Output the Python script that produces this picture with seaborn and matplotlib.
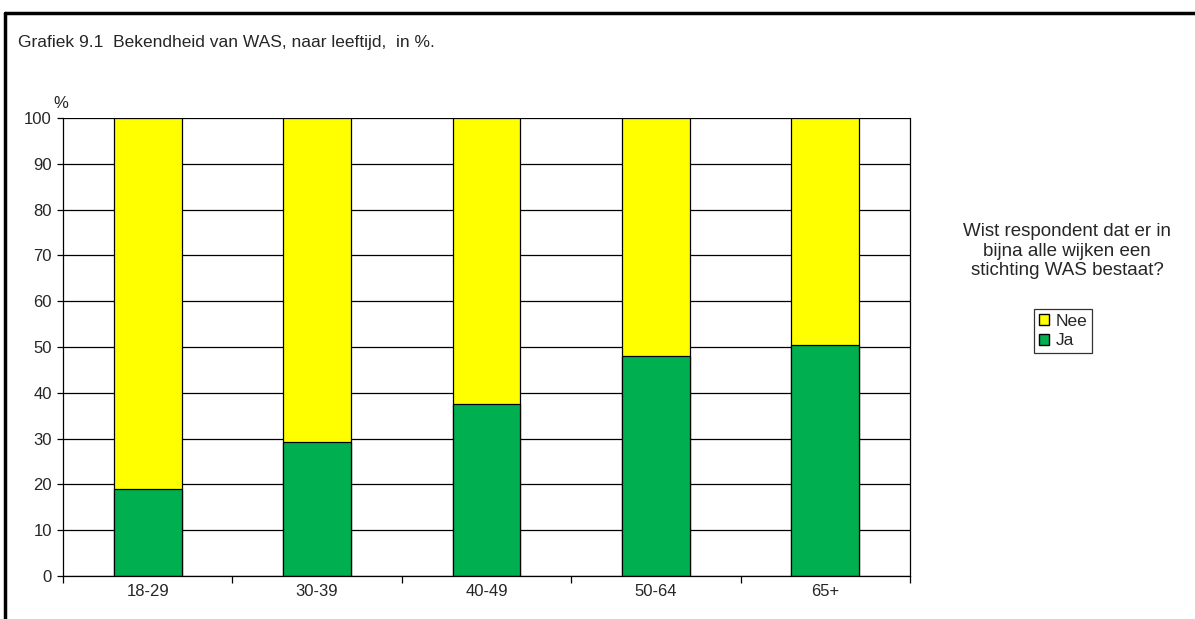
import matplotlib.pyplot as plt
import matplotlib.lines as mlines
import matplotlib.patches as mpatches
import seaborn as sns
import pandas as pd

# Data
leeftijd = ["18-29", "30-39", "40-49", "50-64", "65+"]
ja = [19.1, 29.2, 37.5, 48.1, 50.4]
nee = [80.9, 70.8, 62.5, 51.9, 49.6]

df = pd.DataFrame({"leeftijd": leeftijd, "Ja": ja, "Nee": nee})
df["totaal"] = df["Ja"] + df["Nee"]

sns.set_style("white")
plt.rcParams["font.family"] = ["Liberation Sans", "DejaVu Sans"]

fig = plt.figure(figsize=(11.95, 6.19), dpi=100)
ax = fig.add_axes([63 / 1195, 43 / 619, 847 / 1195, 458 / 619])

# stacked bars: total (Nee on top) first, then Ja
sns.barplot(data=df, x="leeftijd", y="totaal", color="#FFFF00",
            edgecolor="black", linewidth=0.9, width=0.4, ax=ax, saturation=1)
sns.barplot(data=df, x="leeftijd", y="Ja", color="#00B050",
            edgecolor="black", linewidth=0.9, width=0.4, ax=ax, saturation=1)

ax.set_xlim(-0.5, 4.5)
ax.set_ylim(0, 100)
ax.set_yticks(range(0, 101, 10))
ax.yaxis.grid(True, color="black", linewidth=0.9)
ax.set_axisbelow(True)
ax.set_xlabel("")
ax.set_ylabel("")

for side in ["left", "bottom", "right"]:
    ax.spines[side].set_color("black")
    ax.spines[side].set_linewidth(0.9)
ax.spines["top"].set_visible(False)

ax.tick_params(axis="y", which="major", length=4, width=0.9, color="black",
               direction="out", left=True, labelsize=12, pad=4)
ax.tick_params(axis="x", which="major", length=0, labelsize=12, pad=6)
ax.set_xticks([i + 0.5 for i in range(-1, 5)], minor=True)
ax.tick_params(axis="x", which="minor", length=5, width=0.9, color="black",
               direction="out", bottom=True)

ax.text(-0.011, 1.015, "%", transform=ax.transAxes, fontsize=12,
        ha="left", va="bottom")

fig.text(18 / 1195, 1 - 42 / 619,
         "Grafiek 9.1  Bekendheid van WAS, naar leeftijd,  in %.",
         fontsize=12.5, ha="left", va="center")

fig.text(1067 / 1195, 1 - 251 / 619,
         "Wist respondent dat er in\nbijna alle wijken een\nstichting WAS bestaat?",
         fontsize=13.5, ha="center", va="center", linespacing=1.2)

handles = [mpatches.Patch(facecolor="#FFFF00", edgecolor="black", label="Nee"),
           mpatches.Patch(facecolor="#00B050", edgecolor="black", label="Ja")]
fig.legend(handles=handles, loc="center", bbox_to_anchor=(1063 / 1195, 1 - 331 / 619),
           frameon=True, fancybox=False, edgecolor="black", fontsize=12.5,
           handlelength=0.6, handleheight=0.6, handletextpad=0.35,
           borderpad=0.3, borderaxespad=0, labelspacing=0.25)
leg = fig.legends[0]
leg._legend_box.sep = 0
leg.get_frame().set_linewidth(0.9)

# outer frame of the original sheet (top and left edges visible)
fig.add_artist(mlines.Line2D([4.5 / 1195, 4.5 / 1195], [0, 1 - 12.5 / 619],
                             color="black", linewidth=2.5, transform=fig.transFigure))
fig.add_artist(mlines.Line2D([4.5 / 1195, 1], [1 - 12.5 / 619, 1 - 12.5 / 619],
                             color="black", linewidth=2.5, transform=fig.transFigure))

plt.savefig("out.png", dpi=100)
plt.close()
